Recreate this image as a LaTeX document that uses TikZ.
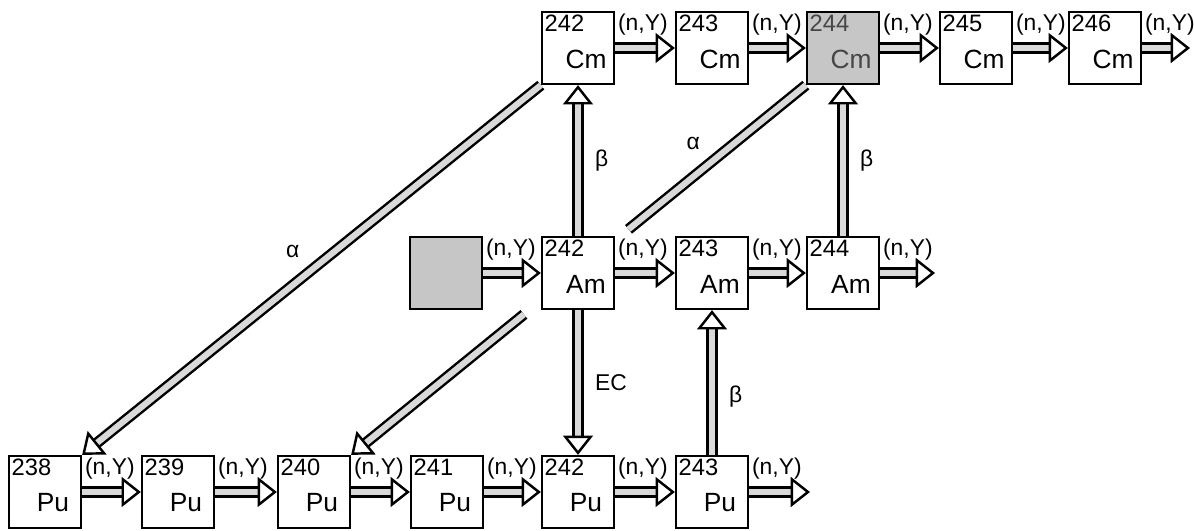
\documentclass[tikz,border=0pt]{standalone}
\usepackage{fontspec}
\setmainfont{Liberation Sans}
\usetikzlibrary{arrows.meta,calc}

\tikzset{
  box/.style={draw, line width=1.3pt, minimum size=1.44cm, inner sep=0pt},
  darkbox/.style={box, fill=gray!45},
  num/.style={anchor=north west, inner sep=2pt, font=\fontsize{13.5}{15}\selectfont},
  sym/.style={xshift=0.16cm, yshift=-0.22cm, font=\fontsize{15}{17}\selectfont},
  flow/.style={draw=black, line width=1.4pt, double=gray!30, double distance=3.5pt,
    -{Triangle[open, length=11pt, width=17pt]}},
  ny/.style={anchor=north west, inner sep=1.5pt, font=\fontsize{13}{15}\selectfont},
  decay/.style={font=\fontsize{13}{15}\selectfont},
}

\begin{document}
\begin{tikzpicture}[x=0.02cm, y=-0.02cm]
    \useasboundingbox (0,0) rectangle (1194,531);
    % Cm row
        \node[box, label={[num]north west:242}, label={[sym]center:Cm}] (cm242) at (578,48) {};
        \node[box, label={[num]north west:243}, label={[sym]center:Cm}] (cm243) at (712,48) {};
        \node[darkbox, label={[num,text=gray!55!black]north west:244}, label={[sym,text=gray!55!black]center:Cm}] (cm244) at (843,48) {};
        \node[box, label={[num]north west:245}, label={[sym]center:Cm}] (cm245) at (976,48) {};
        \node[box, label={[num]north west:246}, label={[sym]center:Cm}] (cm246) at (1105,48) {};
        \coordinate (cmend) at (1190,48);
    % Am row
        \node[darkbox] (am241) at (446,273) {};
        \node[box, label={[num]north west:242}, label={[sym]center:Am}] (am242) at (578,273) {};
        \node[box, label={[num]north west:243}, label={[sym]center:Am}] (am243) at (712,273) {};
        \node[box, label={[num]north west:244}, label={[sym]center:Am}] (am244) at (843,273) {};
        \coordinate (amend) at (935,273);
    % Pu row
        \node[box, label={[num]north west:238}, label={[sym]center:Pu}] (pu238) at (45,492) {};
        \node[box, label={[num]north west:239}, label={[sym]center:Pu}] (pu239) at (178,492) {};
        \node[box, label={[num]north west:240}, label={[sym]center:Pu}] (pu240) at (314,492) {};
        \node[box, label={[num]north west:241}, label={[sym]center:Pu}] (pu241) at (447,492) {};
        \node[box, label={[num]north west:242}, label={[sym]center:Pu}] (pu242) at (578,492) {};
        \node[box, label={[num]north west:243}, label={[sym]center:Pu}] (pu243) at (712,492) {};
        \coordinate (puend) at (810,492);
    % Neutron capture chains
        \foreach \a/\b in {cm242/cm243, cm243/cm244, cm244/cm245, cm245/cm246, cm246/cmend,
                           am241/am242, am242/am243, am243/am244, am244/amend,
                           pu238/pu239, pu239/pu240, pu240/pu241, pu241/pu242, pu242/pu243, pu243/puend}
        {
            \draw[flow] (\a) -- (\b);
            \node[ny] (ny-\a) at (\a.north east) {(n,Y)};
        }
    % Decays
        \draw[flow] (am242) -- node[decay, right=0.2cm] (beta1) {β} (cm242);
        \draw[flow] (am244) -- node[decay, right=0.2cm] (beta3) {β} (cm244);
        \draw[flow] (am242) -- node[decay, right=0.2cm] (ec) {EC} (pu242);
        \draw[flow] (pu243) -- node[decay, pos=0.4, right=0.2cm] (beta2) {β} (am243);
        \draw[flow] (cm242.south west) -- node[decay, pos=0.5, above left=0.1cm] (alpha1) {α} (pu238.north east);
        % this one is broken where it passes behind 242Am
        \draw[flow, -] (cm244.south west) -- node[decay, pos=0.53, above left=0.1cm] (alpha2) {α}
            ($(cm244.south west)!0.39!(pu240.north east)$);
        \draw[flow] ($(cm244.south west)!0.62!(pu240.north east)$) -- (pu240.north east);
\end{tikzpicture}
\end{document}
